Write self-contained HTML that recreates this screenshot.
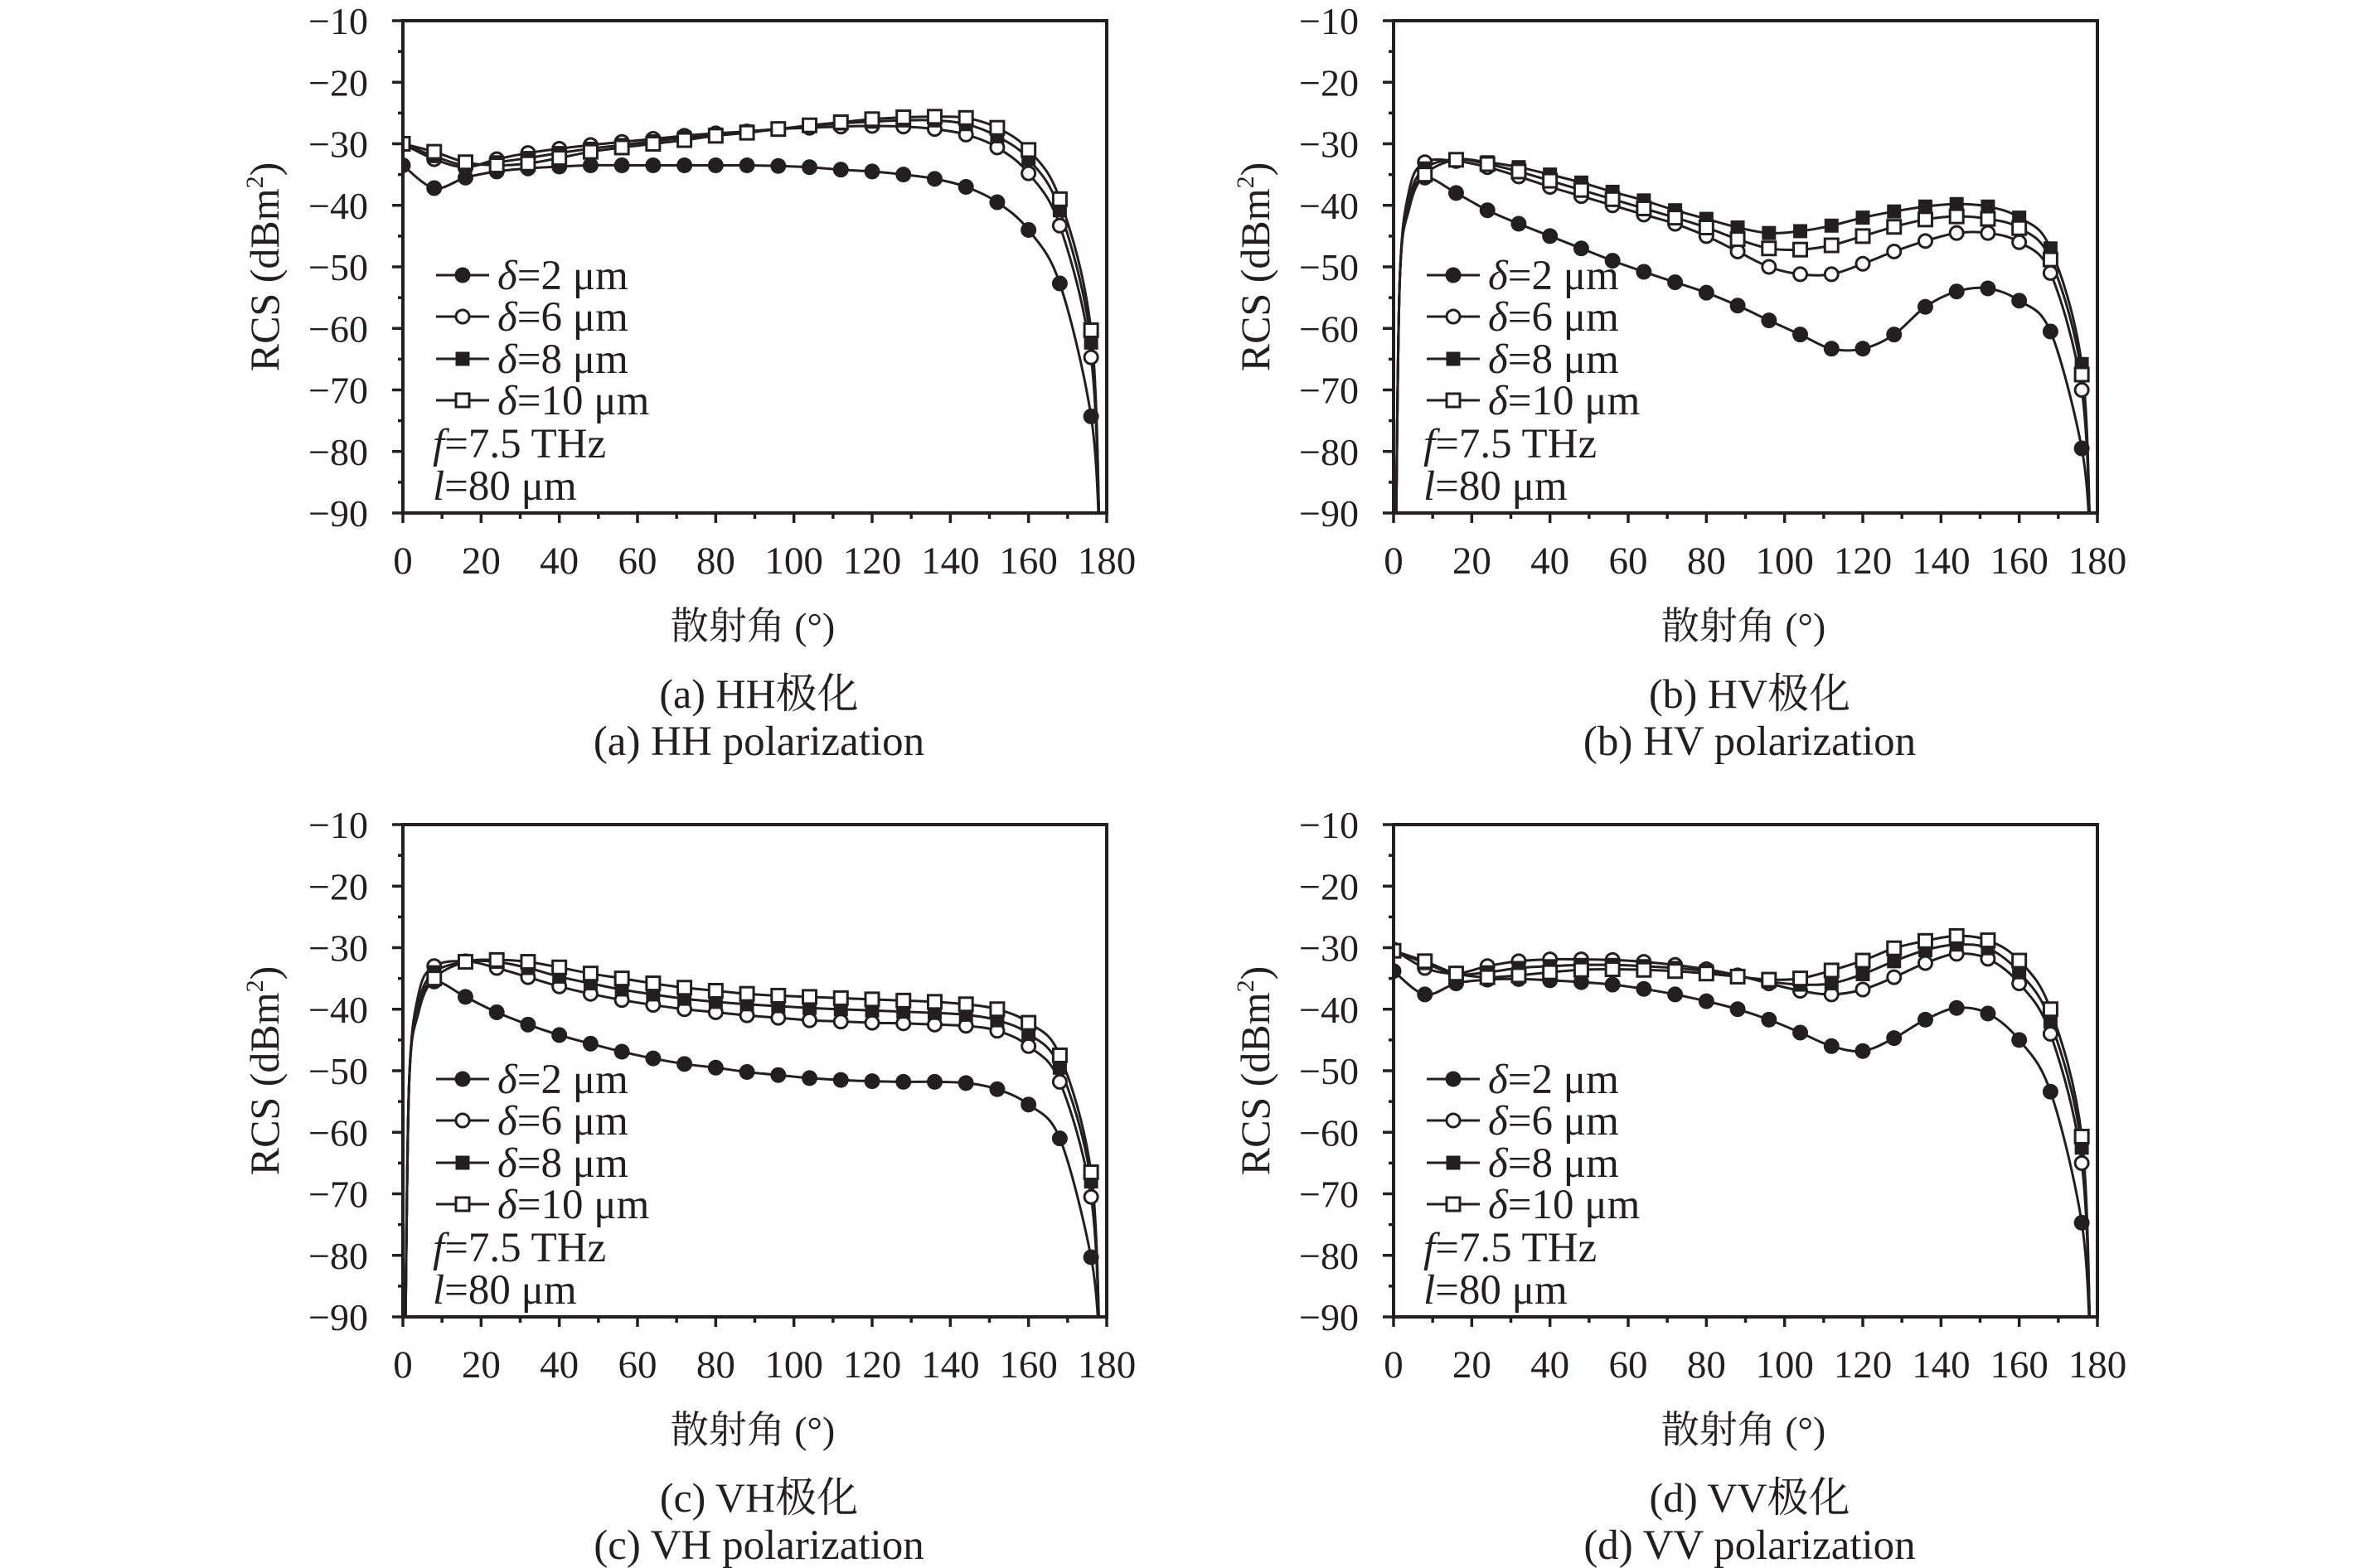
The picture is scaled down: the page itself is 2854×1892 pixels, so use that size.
<!DOCTYPE html>
<html><head><meta charset="utf-8">
<style>
html,body{margin:0;padding:0;background:#fff;}
svg{display:block;}
text{font-family:"Liberation Serif","Noto Serif CJK SC",serif;fill:#231f20;}
</style></head>
<body>
<svg id="s" width="2854" height="1892" xmlns="http://www.w3.org/2000/svg"></svg>
<script>
const S=document.getElementById('s');
let out='';
const W=849,H=594;
const panels=[
 {L:486,T:25,cap1:'(a) HH极化',cap2:'(a) HH polarization',start:'flat',
  d:[
  [-33.5,-37.2,-35.5,-34.5,-34,-33.7,-33.5,-33.5,-33.5,-33.5,-33.5,-33.5,-33.6,-33.8,-34.2,-34.5,-35,-35.7,-37,-39.5,-44,-52.7,-74.3],
  [-30,-32.5,-33.8,-32.5,-31.5,-30.8,-30.2,-29.7,-29.2,-28.7,-28.3,-28,-27.6,-27.4,-27.2,-27.1,-27.2,-27.6,-28.5,-30.6,-34.8,-43.3,-64.7],
  [-30,-32,-33.5,-33,-32.3,-31.5,-30.8,-30.2,-29.6,-29,-28.5,-28,-27.6,-27.1,-26.7,-26.4,-26.2,-26.2,-26.8,-28.8,-32.5,-40.8,-62.3],
  [-30,-31.3,-33,-33.5,-33.2,-32.3,-31.3,-30.6,-30,-29.4,-28.7,-28.2,-27.6,-27,-26.5,-26,-25.7,-25.6,-25.8,-27.4,-31,-39,-60.3]]},
 {L:1681,T:25,cap1:'(b) HV极化',cap2:'(b) HV polarization',start:'rise',
  d:[
  [null,-35.5,-38,-40.8,-43,-45,-47,-49,-50.8,-52.5,-54.2,-56.3,-58.7,-61,-63.3,-63.3,-61,-56.5,-54,-53.5,-55.5,-60.5,-79.5],
  [null,-33,-32.8,-33.8,-35.3,-37,-38.5,-40,-41.5,-43,-45,-47.5,-50,-51.2,-51.2,-49.5,-47.5,-45.8,-44.5,-44.5,-46,-51,-70],
  [null,-34,-32.5,-33,-33.8,-35,-36.3,-37.8,-39.2,-40.8,-42.2,-43.6,-44.5,-44.2,-43.3,-42,-41,-40.2,-39.8,-40.2,-42,-47,-65.8],
  [null,-35,-32.6,-33.3,-34.5,-36,-37.5,-39,-40.5,-42,-43.6,-45.5,-47,-47.2,-46.5,-45,-43.5,-42.3,-41.8,-42.2,-43.7,-48.8,-67.5]]},
 {L:486,T:995,cap1:'(c) VH极化',cap2:'(c) VH polarization',start:'rise',
  d:[
  [null,-35.5,-38,-40.5,-42.5,-44.2,-45.6,-46.9,-48,-48.9,-49.5,-50.2,-50.7,-51.2,-51.5,-51.7,-51.8,-51.8,-52,-53,-55.5,-61,-80.3],
  [null,-33,-32.2,-33.3,-34.8,-36.3,-37.5,-38.5,-39.3,-40,-40.5,-41,-41.4,-41.8,-42,-42.2,-42.3,-42.5,-42.7,-43.5,-46,-51.8,-70.5],
  [null,-34,-32.3,-32.3,-33.3,-34.7,-35.8,-36.8,-37.6,-38.3,-38.8,-39.2,-39.5,-39.8,-40,-40.2,-40.4,-40.6,-40.9,-41.8,-44,-49.5,-68],
  [null,-35,-32.3,-32,-32.3,-33.2,-34.2,-35,-35.8,-36.5,-37,-37.5,-37.8,-38,-38.2,-38.4,-38.6,-38.8,-39.2,-40,-42.2,-47.5,-66.5]]},
 {L:1681,T:995,cap1:'(d) VV极化',cap2:'(d) VV polarization',start:'flat',
  d:[
  [-33.8,-37.6,-35.8,-35.2,-35.1,-35.3,-35.6,-36,-36.7,-37.6,-38.7,-40,-41.7,-43.8,-46,-46.8,-44.7,-41.7,-39.8,-40.7,-45,-53.4,-74.7],
  [-30.3,-33.3,-34.2,-33,-32.2,-31.9,-31.9,-32,-32.3,-32.8,-33.5,-34.5,-35.8,-37,-37.6,-36.8,-34.8,-32.5,-31,-31.8,-35.8,-44,-65],
  [-30.5,-32.5,-34.3,-34,-33.3,-33,-32.8,-32.8,-33,-33.3,-33.8,-34.6,-35.5,-36,-35.8,-34.3,-32.2,-30.4,-29.5,-30.1,-34,-42,-62.5],
  [-30.5,-32.2,-34.2,-34.8,-34.5,-34,-33.6,-33.5,-33.6,-33.8,-34.2,-34.7,-35.2,-35,-33.7,-32.1,-30.1,-28.9,-28.1,-28.8,-32.1,-40,-60.7]]}
];
function mk(type,x,y){
 if(type==0) return `<circle cx="${x}" cy="${y}" r="9.5" fill="#231f20"/>`;
 if(type==1) return `<circle cx="${x}" cy="${y}" r="8" fill="#fff" stroke="#231f20" stroke-width="3"/>`;
 if(type==2) return `<rect x="${x-8.5}" y="${y-8.5}" width="17" height="17" fill="#231f20"/>`;
 return `<rect x="${x-8}" y="${y-8}" width="16" height="16" fill="#fff" stroke="#231f20" stroke-width="3"/>`;
}
function cr(pts){
 let d=`M${pts[0][0].toFixed(1)},${pts[0][1].toFixed(1)}`;
 for(let i=0;i<pts.length-1;i++){
  const p0=pts[i-1]||pts[i],p1=pts[i],p2=pts[i+1],p3=pts[i+2]||p2;
  const c1=[p1[0]+(p2[0]-p0[0])/6,p1[1]+(p2[1]-p0[1])/6];
  const c2=[p2[0]-(p3[0]-p1[0])/6,p2[1]-(p3[1]-p1[1])/6];
  d+=`C${c1[0].toFixed(1)},${c1[1].toFixed(1)} ${c2[0].toFixed(1)},${c2[1].toFixed(1)} ${p2[0].toFixed(1)},${p2[1].toFixed(1)}`;
 }
 return d;
}
panels.forEach((p,pi)=>{
 const L=p.L,T=p.T,R=L+W,B=T+H;
 const X=a=>L+a/180*W, Y=v=>T+(-10-v)/80*H;
 out+=`<defs><clipPath id="c${pi}"><rect x="${L}" y="${T}" width="${W}" height="${H}"/></clipPath></defs>`;
 let g=`<g clip-path="url(#c${pi})">`;
 let mks='';
 p.d.forEach((arr,si)=>{
  let pts=[];
  if(p.start=='rise'){pts.push([X(0.6),Y(-95)],[X(1.6),Y(-52)],[X(4),Y(arr[1]-4-si*0.5)]);}
  arr.forEach((v,i)=>{if(v!==null){pts.push([X(i*8),Y(v)]);mks+=mk(si,X(i*8),Y(v));}});
  pts.push([X(178.2),Y(-95)]);
  g+=`<path d="${cr(pts)}" fill="none" stroke="#231f20" stroke-width="3"/>`;
 });
 g+='</g>';
 out+=g+`<g clip-path="url(#c${pi})">${mks}</g>`;
 out+=`<path d="M${L},${T}H${R}V${B}H${L}Z" fill="none" stroke="#231f20" stroke-width="4"/>`;
 for(let v=-10;v>=-90;v-=5){const y=Y(v);const len=(v%10==0)?13:6;out+=`<line x1="${L-len}" y1="${y}" x2="${L}" y2="${y}" stroke="#231f20" stroke-width="3.5"/>`;
  if(v%10==0) out+=`<text x="${L-42}" y="${y+16}" font-size="46" text-anchor="end">−${-v}</text>`;}
 for(let a=0;a<=180;a+=10){const x=X(a);const len=(a%20==0)?12:7;out+=`<line x1="${x}" y1="${B}" x2="${x}" y2="${B+len}" stroke="#231f20" stroke-width="3.5"/>`;
  if(a%20==0) out+=`<text x="${x}" y="${B+73}" font-size="47" text-anchor="middle">${a}</text>`;}
 out+=`<text transform="translate(${L-150},${T+H/2}) rotate(-90)" font-size="50" text-anchor="middle">RCS (dBm<tspan font-size="30" dy="-19">2</tspan><tspan dy="19">)</tspan></text>`;
 out+=`<text x="${L+H/2+125}" y="${B+152}" font-size="46" text-anchor="middle">散射角 (°)</text>`;
 out+=`<text x="${L+W/2+5}" y="${B+235}" font-size="50" text-anchor="middle">${p.cap1}</text>`;
 out+=`<text x="${L+W/2+5}" y="${B+292}" font-size="51" text-anchor="middle">${p.cap2}</text>`;
 const labs=['2','6','8','10'];const ly=[307,357,408,458];
 labs.forEach((l,i)=>{const y=T+ly[i];
  out+=`<line x1="${L+40}" y1="${y}" x2="${L+104}" y2="${y}" stroke="#231f20" stroke-width="3"/>`+mk(i,L+72,y);
  out+=`<text x="${L+114}" y="${y+17}" font-size="51"><tspan font-style="italic">δ</tspan>=${l} μm</text>`;});
 out+=`<text x="${L+36}" y="${T+527}" font-size="51"><tspan font-style="italic">f</tspan>=7.5 THz</text>`;
 out+=`<text x="${L+36}" y="${T+578}" font-size="51"><tspan font-style="italic">l</tspan>=80 μm</text>`;
});
S.innerHTML=out;
</script>
</body></html>
